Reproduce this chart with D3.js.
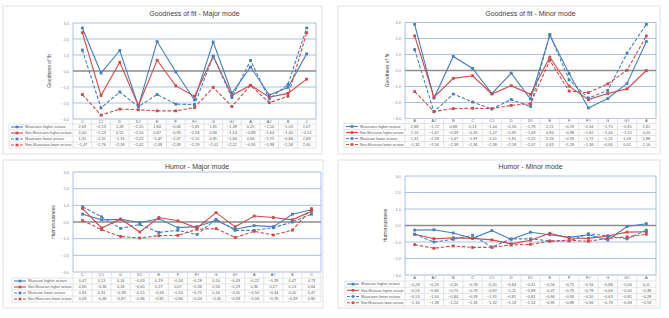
<!DOCTYPE html>
<html><head><meta charset="utf-8">
<script src="https://cdn.jsdelivr.net/npm/d3@7"></script>
<style>body{margin:0;background:#fff;}svg{display:block;font-family:"Liberation Sans",Arial,sans-serif;}</style>
</head><body><svg id="c" width="669" height="318"></svg>
<script>
const majorCats = ["C","C#","D","D#","E","F","F#","G","G#","A","A#","B","C"];
const minorCats = ["A","A#","B","C","C#","D","D#","E","F","F#","G","G#","A"];
const yTicks = [3,2,1,0,-1,-2,-3];

// Goodness of fit - Major mode
const gfMajMusHi = [2.69,-0.13,1.28,-2.20,1.84,-0.06,-1.81,1.81,-1.39,0.25,-1.50,-1.03,1.07];
const gfMajNonHi = [2.40,-1.53,0.55,-2.16,0.67,-0.93,-1.58,0.94,-1.53,-0.89,-1.64,-1.40,-0.51];
const gfMajMusLo = [1.31,-2.31,-1.31,-2.22,-1.47,-2.07,-2.10,0.91,-1.66,0.66,-1.75,-0.84,2.69];
const gfMajNonLo = [-1.47,-2.76,-2.38,-2.42,-2.49,-2.49,-2.29,-1.02,-2.22,-0.90,-1.98,-1.58,2.40];
// Goodness of fit - Minor mode
const gfMinMusHi = [2.88,-1.72,0.88,0.13,-1.44,-0.16,-1.78,2.21,-0.19,-2.34,-1.75,-0.81,1.81];
const gfMinNonHi = [2.16,-1.67,-0.49,-0.33,-1.47,-0.95,-1.49,0.84,-0.98,-1.82,-1.44,-1.15,0.00];
const gfMinMusLo = [1.31,-2.58,-1.47,-1.97,-2.41,-1.81,-2.25,2.26,-0.59,-1.72,-1.25,1.09,2.88];
const gfMinNonLo = [-1.32,-2.56,-2.38,-2.36,-2.38,-2.18,-2.07,0.63,-1.29,-1.38,-0.84,0.02,2.16];
// Humor - Major mode
const huMajMusHi = [0.47,0.13,0.16,-0.03,0.19,-0.34,-0.28,0.10,-0.43,-0.22,-0.28,0.47,0.73];
const huMajNonHi = [0.80,-0.36,0.18,-0.60,0.27,0.07,-0.36,0.56,-0.29,0.36,0.27,0.13,0.64];
const huMajMusLo = [0.91,0.31,-0.38,-0.15,-0.63,-0.50,-0.75,0.16,-0.50,-0.50,-0.34,0.00,0.47];
const huMajNonLo = [0.09,-0.46,-0.87,-0.96,-0.82,-0.80,-0.44,-0.40,-0.93,-0.56,-0.78,-0.49,0.80];
// Humor - Minor mode
const huMinMusHi = [-0.28,-0.26,-0.45,-0.78,-0.31,-0.84,-0.41,-0.56,-0.72,-0.56,-0.88,-0.06,0.11];
const huMinNonHi = [-0.53,-0.80,-0.75,-0.78,-0.87,-1.11,-0.89,-0.47,-0.76,-0.78,-0.64,-0.40,-0.38];
const huMinMusLo = [-0.53,-1.00,-0.84,-0.59,-1.31,-0.81,-0.81,-0.94,-0.94,-0.50,-0.63,-0.81,-0.28];
const huMinNonLo = [-1.16,-1.38,-1.24,-1.33,-1.32,-1.18,-1.14,-0.95,-0.89,-0.96,-0.78,-0.69,-0.53];

const BLUE = "#4a7ebb", RED = "#cc4b4b";
const fmt = v => d3.format(".2f")(v).replace(".", ",").replace("-0,00","0,00");
const tfmt = v => d3.format(".1f")(v).replace(".", ",");

const svg = d3.select("#c");

function fit(sel, maxW) {
  sel.each(function () {
    const w = this.getComputedTextLength();
    if (w > maxW) d3.select(this).attr("textLength", maxW).attr("lengthAdjust", "spacingAndGlyphs");
  });
}

function panel(cfg) {
  const g = svg.append("g");
  g.append("rect").attr("x", cfg.px).attr("y", cfg.py).attr("width", cfg.pw).attr("height", cfg.ph)
    .attr("fill", "#fff").attr("stroke", "#d9d9d9").attr("stroke-width", 0.8);
  g.append("text").attr("x", (cfg.left + cfg.right) / 2).attr("y", cfg.titleY)
    .attr("text-anchor", "middle").attr("font-size", 7).attr("fill", "#404040").text(cfg.title);

  const y = d3.scaleLinear().domain([-3, 3]).range([cfg.bottom, cfg.top]);
  const x = d3.scaleBand().domain(d3.range(cfg.cats.length)).range([cfg.left, cfg.right]);
  const cx = i => x(i) + x.bandwidth() / 2;

  // gridlines
  g.selectAll(".grid").data(yTicks.filter(t => t !== 0)).join("line")
    .attr("x1", cfg.left).attr("x2", cfg.right).attr("y1", d => y(d)).attr("y2", d => y(d))
    .attr("stroke", "#9fbbe3").attr("stroke-width", 0.9);
  [cfg.left, cfg.right].forEach(xx => g.append("line").attr("x1", xx).attr("x2", xx)
    .attr("y1", y(3)).attr("y2", y(-3)).attr("stroke", "#9fbbe3").attr("stroke-width", 0.9));
  g.append("line").attr("x1", cfg.left).attr("x2", cfg.right).attr("y1", y(0)).attr("y2", y(0))
    .attr("stroke", "#8c8c8c").attr("stroke-width", 1.4);

  // y tick labels
  const ax = d3.axisLeft(y).tickValues(yTicks).tickFormat(tfmt).tickSize(0).tickPadding(4);
  const axg = g.append("g").attr("transform", `translate(${cfg.left},0)`).call(ax);
  axg.select(".domain").remove();
  axg.selectAll("text").attr("font-size", 4).attr("fill", "#8a8a8a").attr("font-family", "Liberation Sans, Arial");

  // y label
  g.append("text").attr("transform", `translate(${cfg.ylabX},${y(0)}) rotate(-90)`)
    .attr("text-anchor", "middle").attr("font-size", 5).attr("fill", "#404040").text(cfg.ylabel);

  // lines
  const line = d3.line().x((d, i) => cx(i)).y(d => y(d));
  cfg.series.forEach(s => {
    g.append("path").datum(s.values).attr("d", line).attr("fill", "none")
      .attr("stroke", s.color).attr("stroke-width", 1.1)
      .attr("stroke-dasharray", s.dash ? "3.5,1.8" : null);
    g.selectAll(null).data(s.values).join("rect")
      .attr("x", (d, i) => cx(i) - 1.4).attr("y", d => y(d) - 1.4)
      .attr("width", 2.8).attr("height", 2.8).attr("fill", s.color);
  });

  // table
  const hTop = cfg.bottom, hH = cfg.headerH, rH = cfg.rowH;
  const tBottom = hTop + hH + rH * cfg.series.length;
  const tg = g.append("g");
  const bc = "#d4d4d4";
  tg.append("line").attr("x1", cfg.left).attr("x2", cfg.right).attr("y1", hTop).attr("y2", hTop).attr("stroke", bc).attr("stroke-width", 0.6);
  for (let r = 0; r <= cfg.series.length; r++) {
    const yy = hTop + hH + r * rH;
    tg.append("line").attr("x1", cfg.legX).attr("x2", cfg.right).attr("y1", yy).attr("y2", yy).attr("stroke", bc).attr("stroke-width", 0.6);
  }
  d3.range(cfg.cats.length + 1).forEach(i => {
    const xx = cfg.left + i * x.bandwidth();
    tg.append("line").attr("x1", xx).attr("x2", xx).attr("y1", hTop).attr("y2", tBottom).attr("stroke", bc).attr("stroke-width", 0.6);
  });
  tg.append("line").attr("x1", cfg.legX).attr("x2", cfg.legX).attr("y1", hTop + hH).attr("y2", tBottom).attr("stroke", bc).attr("stroke-width", 0.6);
  tg.selectAll(null).data(cfg.cats).join("text")
    .attr("x", (d, i) => cx(i)).attr("y", hTop + hH / 2 + 1.4)
    .attr("text-anchor", "middle").attr("font-size", 4).attr("fill", "#595959").text(d => d);
  cfg.series.forEach((s, r) => {
    const yc = hTop + hH + r * rH + rH / 2;
    tg.append("line").attr("x1", cfg.legX + 2).attr("x2", cfg.legX + 14).attr("y1", yc).attr("y2", yc)
      .attr("stroke", s.color).attr("stroke-width", 1.1).attr("stroke-dasharray", s.dash ? "3,1.5" : null);
    tg.append("rect").attr("x", cfg.legX + 6.7).attr("y", yc - 1.3).attr("width", 2.6).attr("height", 2.6).attr("fill", s.color);
    const tx = cfg.legX + 16;
    const t = tg.append("text").attr("x", tx).attr("y", yc + 1.3).attr("font-size", 3.8).attr("fill", "#595959").text(s.name);
    fit(t, cfg.left - tx - 1.5);
    tg.selectAll(null).data(s.values).join("text")
      .attr("x", (d, i) => cx(i)).attr("y", yc + 1.4).attr("text-anchor", "middle")
      .attr("font-size", 3.9).attr("fill", "#595959").text(d => fmt(d));
  });
}

function mk(names, vals) {
  return names.map((n, i) => ({ name: n, values: vals[i], color: i % 2 === 0 ? BLUE : RED, dash: i >= 2 }));
}

panel({ px: 3, py: 6, pw: 319, ph: 148, left: 73, right: 316, top: 23, bottom: 119, headerH: 5, rowH: 6,
  legX: 9, titleY: 16, ylabX: 51, title: "Goodness of fit - Major mode", ylabel: "Goodness of fit", cats: majorCats,
  series: mk(["Musicians higher octave","Non-Musicians higher octave","Musicians lower octave","Non-Musicians lower octave"],
    [gfMajMusHi, gfMajNonHi, gfMajMusLo, gfMajNonLo]) });

panel({ px: 338, py: 6, pw: 322, ph: 148, left: 405, right: 656, top: 22.5, bottom: 118.5, headerH: 5, rowH: 6,
  legX: 344, titleY: 16, ylabX: 389, title: "Goodness of fit - Minor mode", ylabel: "Goodness of fit", cats: minorCats,
  series: mk(["Musicians higher octave","Non-Musicians higher octave","Musician lower octave","Non-Musician lower octave"],
    [gfMinMusHi, gfMinNonHi, gfMinMusLo, gfMinNonLo]) });

panel({ px: 3, py: 160, pw: 320, ph: 148, left: 73, right: 321, top: 172, bottom: 272, headerH: 6, rowH: 6,
  legX: 12, titleY: 169, ylabX: 55, title: "Humor - Major mode", ylabel: "Humorousness", cats: majorCats,
  series: mk(["Musician higher octave","Non-Musician higher octave","Musician lower octave","Non-Musicians lower octave"],
    [huMajMusHi, huMajNonHi, huMajMusLo, huMajNonLo]) });

panel({ px: 338, py: 160, pw: 322, ph: 148, left: 405, right: 656, top: 176, bottom: 275, headerH: 6, rowH: 6.2,
  legX: 345, titleY: 169, ylabX: 387, title: "Humor - Minor mode", ylabel: "Humorousness", cats: minorCats,
  series: mk(["Musician higher octave","Non-Musician higher octave","Musicians lower octave","Non-Musicians lower octave"],
    [huMinMusHi, huMinNonHi, huMinMusLo, huMinNonLo]) });
</script></body></html>
